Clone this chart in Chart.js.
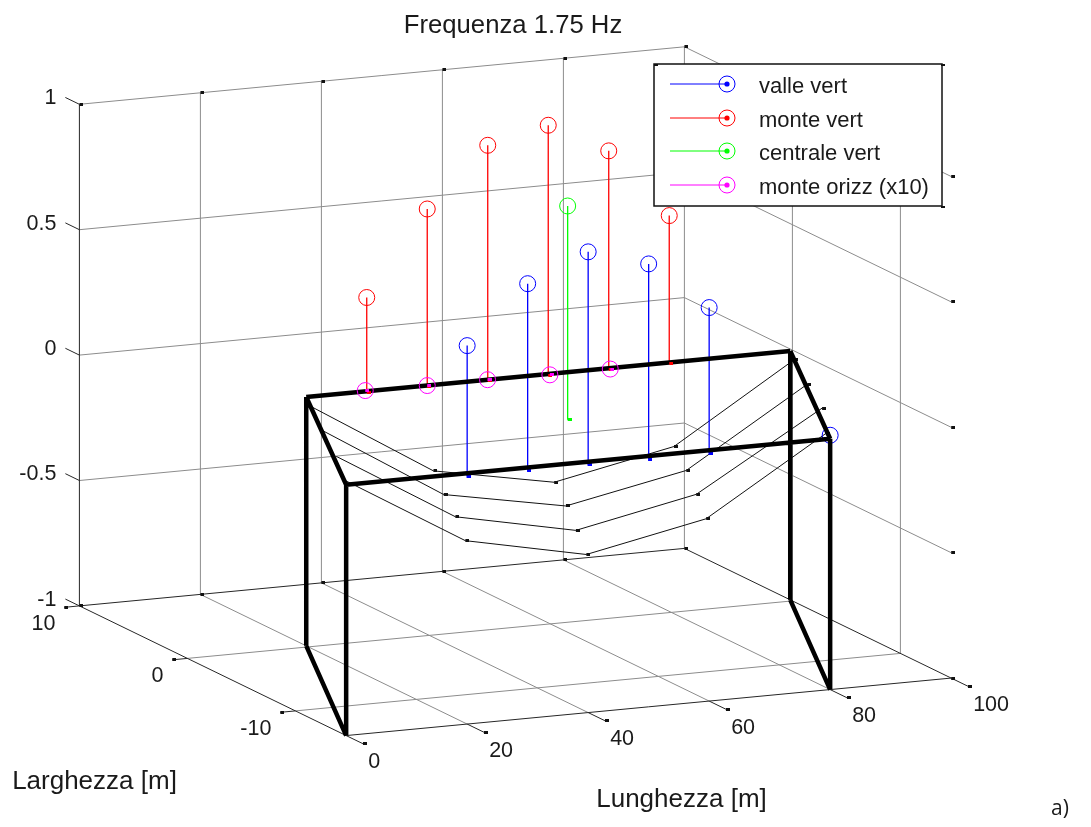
<!DOCTYPE html>
<html>
<head>
<meta charset="utf-8">
<title>Frequenza 1.75 Hz</title>
<script src="https://cdn.jsdelivr.net/npm/chart.js@4"></script>
<style>
    html, body { margin: 0; padding: 0; background: #fff; }
    #wrap { width: 1091px; height: 827px; }
</style>
</head>
<body>
<div id="wrap"><canvas id="chart" width="1091" height="827"></canvas></div>
<script>
// tick labels
const xTicks = [0, 20, 40, 60, 80, 100];
const yTicks = [10, 0, -10];
const zTicks = [1, 0.5, 0, -0.5, -1];

// axis limits
const xLim = [0, 100];
const yLim = [-14.7, 10];
const zLim = [-1, 1];

// stems: valle vert
const valleX = [20, 30, 40, 50, 60, 80];
const valleZ = [0.509, 0.733, 0.837, 0.766, 0.569, 0.014];
const valleY = -14.7;

// stems: monte vert
const monteX = [30, 40, 50, 60, 70, 80];
const monteZ = [0.366, 0.696, 0.927, 0.984, 0.859, 0.578];
const monteY = 0.2;

// stems: centrale vert
const centraleX = [50];
const centraleZ = [0.84];
const centraleY = -7.2;

// stems: monte orizz (x10), the value goes along y
const orizzX = [30, 40, 50, 60, 70];
const orizzY = [0.34, 0.2, 0.22, 0.05, 0.06];

// bridge frame
const frameFrontX = [0, 80];
const frameBackX = [20, 100];
const frameFrontY = -14.7;
const frameBackY = 0.2;
const deckZ = 0;
const backDeckZ = -0.008;
const baseZ = -1;

// arches, one row per line
const archY = [-14.7, -10.7, -6.7, -2.7];
const archX = [
    [0, 19.7, 39.7, 59.5, 79.3],
    [5.5, 25.2, 45.1, 65, 85.8],
    [10.5, 30.4, 50.6, 70.5, 90.5],
    [15.75, 35.85, 55.8, 75.6, 95.5]
];
const archZ = [
    [0.015, -0.268, -0.369, -0.272, 0.023],
    [0.017, -0.269, -0.369, -0.271, 0.025],
    [0.023, -0.276, -0.368, -0.272, 0.026],
    [0.023, -0.278, -0.369, -0.272, 0.029]
];

const legendLabels = ['valle vert', 'monte vert', 'centrale vert', 'monte orizz (x10)'];
const legendColors = ['#0000ff', '#ff0000', '#00ff00', '#ff00ff'];

const GRID = '#8c8c8c';
const DARK = '#262626';
const FONT = '"Liberation Sans", Arial, sans-serif';

// fixed 3d view of the original figure
function project(x, y, z) {
    return {
        x: 187.4 + 6.05 * x - 10.8 * y,
        y: 407.6 - 0.575 * x - 5.25 * y - 250.8 * z
    };
}

function polyline(points) {
    return points.map(p => project(p[0], p[1], p[2]));
}

// separate segments, a null point breaks the line
function segments(list) {
    const out = [];
    list.forEach(seg => {
        out.push(project(...seg[0]), project(...seg[1]), { x: null, y: null });
    });
    return out;
}

function lineSet(data, color, width, order) {
    return { data, borderColor: color, borderWidth: width, showLine: true, pointRadius: 0, order, spanGaps: false, label: '' };
}

// matlab leaves a small mark just right of the line ends
function makeDot(color) {
    const c = document.createElement('canvas');
    c.width = 8;
    c.height = 3;
    const g = c.getContext('2d');
    g.fillStyle = color;
    g.fillRect(4, 0, 4, 3);
    return c;
}

function dotSet(points, color, order) {
    return { data: points.map(p => project(...p)), showLine: false, pointStyle: makeDot(color), pointRadius: 3, order, label: '' };
}

function circleSet(points, color, order) {
    return {
        data: points.map(p => project(...p)),
        showLine: false,
        pointStyle: 'circle',
        pointRadius: 8,
        pointBorderWidth: 1,
        pointBorderColor: color,
        pointBackgroundColor: 'rgba(0,0,0,0)',
        order,
        label: ''
    };
}

const [xMin, xMax] = xLim;
const [yMin, yMax] = yLim;
const [zMin, zMax] = zLim;

// grid on the walls and on the floor
const gridSegs = [];
const darkSegs = [];
const gridDots = [];
zTicks.forEach(z => {
    if (z !== zMin) gridSegs.push([[xMin, yMax, z], [xMax, yMax, z]]);
    if (z !== zMin) gridSegs.push([[xMax, yMax, z], [xMax, yMin, z]]);
    gridDots.push([xMax, yMin, z]);
    darkSegs.push([[xMin, yMax, z], [xMin, yMax + 1.3, z]]);
});
xTicks.forEach(x => {
    if (x !== xMin) gridSegs.push([[x, yMax, zMin], [x, yMax, zMax]]);
    if (x !== xMin && x !== xMax) gridSegs.push([[x, yMax, zMin], [x, yMin, zMin]]);
    darkSegs.push([[x, yMin, zMin], [x, yMin - 1.55, zMin]]);
    gridDots.push([x, yMin - 1.55, zMin], [x, yMax, zMin], [x, yMax, zMax]);
});
yTicks.forEach(y => {
    if (y !== yMax) gridSegs.push([[xMin, y, zMin], [xMax, y, zMin]]);
    if (y !== yMax) gridSegs.push([[xMax, y, zMin], [xMax, y, zMax]]);
    darkSegs.push([[xMin, y, zMin], [xMin - 2.5, y, zMin]]);
    gridDots.push([xMin - 2.5, y, zMin]);
});
darkSegs.push(
    [[xMin, yMax, zMin], [xMin, yMax, zMax]],
    [[xMin, yMax, zMin], [xMin, yMin, zMin]],
    [[xMin, yMin, zMin], [xMax, yMin, zMin]],
    [[xMax, yMax, zMin], [xMax, yMin, zMin]],
    [[xMin, yMax, zMin], [xMax, yMax, zMin]]
);

const [f0, f1] = frameFrontX;
const [b0, b1] = frameBackX;
const frameSegs = [
    [[f0, frameFrontY, baseZ], [f0, frameFrontY, deckZ]],
    [[f1, frameFrontY, baseZ], [f1, frameFrontY, deckZ]],
    [[b0, frameBackY, baseZ], [b0, frameBackY, backDeckZ]],
    [[b1, frameBackY, baseZ], [b1, frameBackY, backDeckZ]],
    [[f0, frameFrontY, deckZ], [f1, frameFrontY, deckZ]],
    [[b0, frameBackY, backDeckZ], [b1, frameBackY, backDeckZ]],
    [[f0, frameFrontY, deckZ], [b0, frameBackY, backDeckZ]],
    [[f1, frameFrontY, deckZ], [b1, frameBackY, backDeckZ]],
    [[f0, frameFrontY, baseZ], [b0, frameBackY, baseZ]],
    [[f1, frameFrontY, baseZ], [b1, frameBackY, baseZ]]
];

const vallePts = valleX.map((x, i) => [x, valleY, valleZ[i]]);
const montePts = monteX.map((x, i) => [x, monteY, monteZ[i]]);
const centralePts = centraleX.map((x, i) => [x, centraleY, centraleZ[i]]);
const orizzPts = orizzX.map((x, i) => [x, orizzY[i], backDeckZ]);

const stemBase = -0.012;
const datasets = [
    lineSet(segments(gridSegs), GRID, 1, 20),
    lineSet(segments(darkSegs), DARK, 1, 19),
    dotSet(gridDots, '#111', 18),

    ...archY.map((y, r) => lineSet(polyline(archX[r].map((x, i) => [x, y, archZ[r][i]])), '#111', 1, 17)),
    ...archY.map((y, r) => dotSet(archX[r].slice(1).map((x, i) => [x, y, archZ[r][i + 1]]), '#111', 16)),

    lineSet(segments(vallePts.slice(0, 5).map(p => [[p[0], p[1], stemBase], p])), legendColors[0], 1.3, 15),
    lineSet(segments(montePts.map(p => [[p[0], p[1], stemBase], p])), legendColors[1], 1.3, 15),
    lineSet(segments(centralePts.map(p => [[p[0], p[1], stemBase], p])), legendColors[2], 1.3, 15),
    dotSet(vallePts.slice(0, 5).map(p => [p[0] - 0.1, p[1], stemBase]), legendColors[0], 14),
    dotSet(centralePts.map(p => [p[0], p[1], stemBase]), legendColors[2], 14),
    circleSet(vallePts, legendColors[0], 13),
    circleSet(montePts, legendColors[1], 13),
    circleSet(centralePts, legendColors[2], 13),

    lineSet(segments(frameSegs), '#000', 4.5, 5),

    dotSet(montePts.map(p => [p[0], p[1], stemBase]), legendColors[1], 4),
    dotSet(orizzPts, legendColors[3], 3),
    circleSet(orizzPts, legendColors[3], 2)
];

function text(ctx, str, x, y, align, size) {
    ctx.font = size + 'px ' + FONT;
    ctx.textAlign = align;
    ctx.textBaseline = 'middle';
    ctx.fillStyle = '#1a1a1a';
    ctx.fillText(str, x, y);
}

const labelsPlugin = {
    id: 'labels3d',
    afterDraw(chart) {
        const ctx = chart.ctx;
        const sx = chart.scales.x;
        const sy = chart.scales.y;
        const at = (x, y, z) => {
            const p = project(x, y, z);
            return { x: sx.getPixelForValue(p.x), y: sy.getPixelForValue(p.y) };
        };
        ctx.save();
        zTicks.forEach(z => {
            const p = at(xMin, yMax, z);
            text(ctx, String(z), p.x - 23, p.y - 6, 'right', 21.5);
        });
        yTicks.forEach(y => {
            const p = at(xMin, y, zMin);
            text(ctx, String(y), p.x - 24, p.y + 18, 'right', 21.5);
        });
        xTicks.forEach(x => {
            const p = at(x, yMin, zMin);
            text(ctx, String(x), p.x + 22, p.y + 27, 'left', 21.5);
        });
        text(ctx, 'Frequenza 1.75 Hz', 513, 26, 'center', 25.7);
        text(ctx, 'Larghezza [m]', 94.5, 782, 'center', 26);
        text(ctx, 'Lunghezza [m]', 681.5, 800, 'center', 26);
        ctx.font = '21px "Open Sans", sans-serif';
        ctx.textAlign = 'left';
        ctx.fillText('a)', 1051, 809);

        // legend box
        ctx.fillStyle = '#fff';
        ctx.strokeStyle = '#111';
        ctx.lineWidth = 1.5;
        ctx.fillRect(654, 64, 288, 142);
        ctx.strokeRect(654, 64, 288, 142);
        ctx.fillStyle = '#111';
        ctx.fillRect(654, 64, 4, 2);
        ctx.fillRect(941, 64, 4, 2);
        ctx.fillRect(941, 206, 4, 2);
        const rows = [84, 118, 151, 185];
        legendLabels.forEach((label, i) => {
            const y = rows[i];
            ctx.strokeStyle = legendColors[i];
            ctx.fillStyle = legendColors[i];
            ctx.lineWidth = 1;
            ctx.beginPath();
            ctx.moveTo(670, y);
            ctx.lineTo(727, y);
            ctx.stroke();
            ctx.beginPath();
            ctx.arc(727, y, 8, 0, Math.PI * 2);
            ctx.stroke();
            ctx.beginPath();
            ctx.arc(727, y, 2.6, 0, Math.PI * 2);
            ctx.fill();
            text(ctx, label, 759, y + 3, 'left', 22);
        });
        ctx.restore();
    }
};

new Chart(document.getElementById('chart').getContext('2d'), {
    type: 'scatter',
    data: { datasets },
    options: {
        responsive: false,
        animation: false,
        layout: { padding: 0, autoPadding: false },
        plugins: { legend: { display: false }, title: { display: false }, tooltip: { enabled: false } },
        scales: {
            x: { type: 'linear', min: 0, max: 1091, display: false },
            y: { type: 'linear', min: 0, max: 827, reverse: true, display: false }
        }
    },
    plugins: [labelsPlugin]
});
</script>
</body>
</html>
